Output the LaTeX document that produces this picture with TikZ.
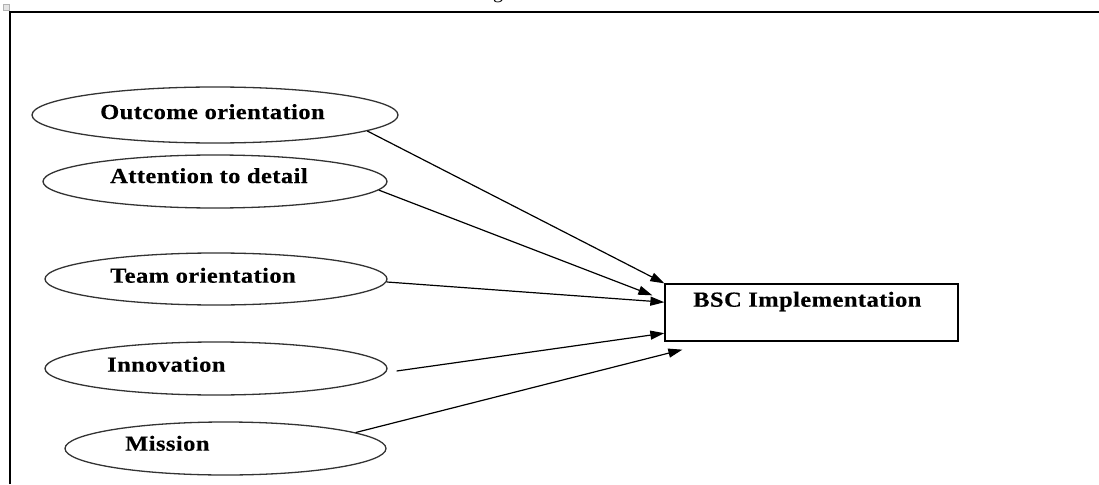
\documentclass[tikz,border=0pt]{standalone}
\usepackage{fontspec}
\setmainfont{Liberation Serif}
\newfontfamily\lblfont{Liberation Serif}[FakeStretch=1.14,LetterSpace=2,FakeBold=0.4]
\usetikzlibrary{shapes.geometric,arrows.meta,calc}
\begin{document}
\begin{tikzpicture}[x=1pt,y=-1pt,
  ell/.style={draw, ellipse, inner sep=0pt, line width=1.3pt, color=black!80},
  box/.style={draw, rectangle, inner sep=0pt, line width=1.3pt},
  lbl/.style={font={\lblfont\bfseries\fontsize{21.5}{25}\selectfont}, inner sep=0pt, anchor=base west},
  arr/.style={-{Triangle[length=14pt,width=9pt]}, line width=1.2pt},
  frame/.style={line width=2pt}]
\useasboundingbox (0,0) rectangle (1099,484);
% fragment of caption above
\node[font=\fontsize{20}{24}\selectfont, anchor=base, inner sep=0pt] (g) at (498,-1.5) {g};
% frame
\draw[frame] (10,484) -- (10,11.7) -- (1099,11.7);
\draw[gray!60, fill=gray!20, line width=0.6pt] (3,4) rectangle (9,10);
% ellipses
\node[ell, minimum width=366pt, minimum height=56pt] (o) at (215,115) {};
\node[ell, minimum width=344pt, minimum height=53pt] (a) at (215,181.5) {};
\node[ell, minimum width=342pt, minimum height=52pt] (t) at (216,279) {};
\node[ell, minimum width=342pt, minimum height=53pt] (i) at (216,368.5) {};
\node[ell, minimum width=321pt, minimum height=53pt] (m) at (225.5,448.5) {};
% box
\node[box, minimum width=293pt, minimum height=57pt] (b) at (811.5,312.5) {};
% labels
\node[lbl] (ot) at (100,119) {Outcome orientation};
\node[lbl] (at) at (110,183) {Attention to detail};
\node[lbl] (tt) at (110,282.7) {Team orientation};
\node[lbl] (it) at (107,371.7) {Innovation};
\node[lbl] (mt) at (125,450.7) {Mission};
\node[lbl] (bt) at (693,306.7) {BSC Implementation};
% arrows
\draw[arr] (o.-6) -- (b.north west);
\draw[arr] (a.-3.6) -- ($(b.north west)+(-12,12)$);
\draw[arr] (t.-1.4) -- (b.176.7);
\draw[arr] ($(i.east)+(9,2.5)$) -- (b.188.3);
\draw[arr] (m.7.7) -- ($(b.south west)+(18,8)$);
\end{tikzpicture}
\end{document}
